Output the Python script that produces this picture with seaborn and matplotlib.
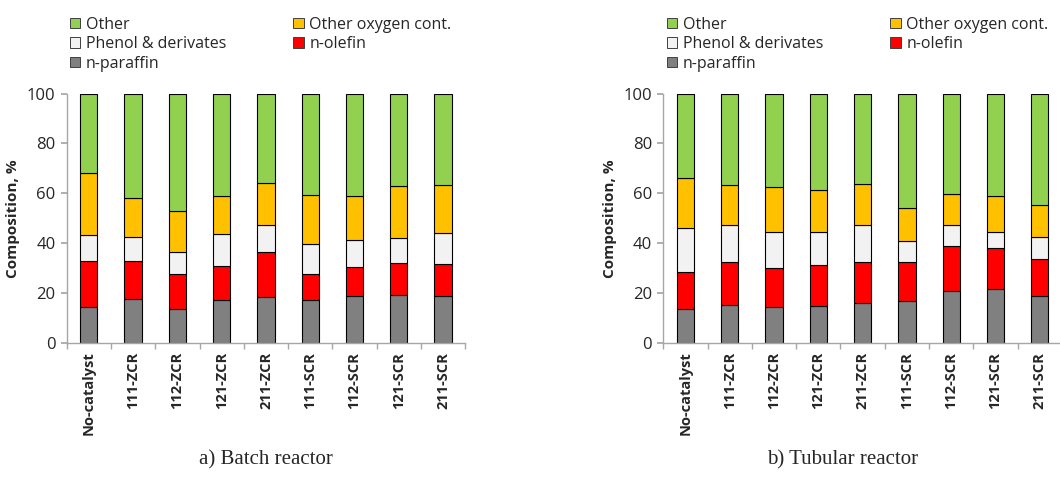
import numpy as np
import pandas as pd
import matplotlib
matplotlib.use("Agg")
import matplotlib.pyplot as plt
from matplotlib.patches import Patch
import seaborn as sns

sns.set_theme(style="white")
plt.rcParams["font.family"] = ["Open Sans", "DejaVu Sans"]

categories = ["No-catalyst", "111-ZCR", "112-ZCR", "121-ZCR", "211-ZCR",
              "111-SCR", "112-SCR", "121-SCR", "211-SCR"]

# Batch reactor composition, %
batch_paraffin = [14.7, 17.7, 13.6, 17.3, 18.7, 17.3, 19.1, 19.5, 19.1]
batch_olefin   = [18.4, 15.4, 14.0, 13.5, 18.0, 10.3, 11.4, 12.5, 12.5]
batch_phenol   = [10.4,  9.6,  8.8, 13.1, 10.8, 12.1, 10.7, 10.3, 12.4]
batch_oxygen   = [24.8, 15.3, 16.5, 14.9, 16.8, 19.8, 17.9, 20.8, 19.5]
batch_other    = [31.7, 42.0, 47.1, 41.2, 35.7, 40.5, 40.9, 36.9, 36.5]

# Tubular reactor composition, %
tub_paraffin = [13.6, 15.5, 14.7, 15.1, 16.3, 17.1, 21.1, 21.7, 18.8]
tub_olefin   = [15.1, 17.2, 15.6, 16.2, 16.4, 15.6, 17.8, 16.6, 15.1]
tub_phenol   = [17.3, 14.8, 14.1, 13.4, 14.5,  8.4,  8.3,  6.1,  8.5]
tub_oxygen   = [20.3, 16.0, 18.3, 16.8, 16.7, 12.9, 12.7, 14.4, 13.1]
tub_other    = [33.7, 36.5, 37.3, 38.5, 36.1, 46.0, 40.1, 41.2, 44.5]

series_names = ["n-paraffin", "n-olefin", "Phenol & derivates",
                "Other oxygen cont.", "Other"]
series_colors = ["#808080", "#FF0000", "#F2F2F2", "#FFC000", "#92D050"]

panels = [
    ("a) Batch reactor", [batch_paraffin, batch_olefin, batch_phenol, batch_oxygen, batch_other]),
    ("b) Tubular reactor", [tub_paraffin, tub_olefin, tub_phenol, tub_oxygen, tub_other]),
]

fig = plt.figure(figsize=(10.6, 4.87), dpi=100)
ax_rects = [[0.0629, 0.295, 0.376, 0.513], [0.6258, 0.295, 0.376, 0.513]]
caption_x = [0.251, 0.795]
legend_x = [0.066, 0.629]
axis_gray = "#A6A6A6"

for (caption, layers), rect, cx, lx in zip(panels, ax_rects, caption_x, legend_x):
    ax = fig.add_axes(rect)
    bottom = np.zeros(len(categories))
    for name, vals, col in zip(series_names, layers, series_colors):
        df = pd.DataFrame({"cat": categories, "val": vals})
        sns.barplot(data=df, x="cat", y="val", color=col, bottom=bottom,
                    width=0.39, edgecolor="black", linewidth=0.8,
                    saturation=1, ax=ax, order=categories)
        bottom = bottom + np.asarray(vals)

    ax.set_xlim(-0.5, len(categories) - 0.5)
    ax.set_ylim(0, 100)
    ax.set_yticks([0, 20, 40, 60, 80, 100])
    ax.set_xlabel("")
    ax.set_ylabel("Composition, %", fontsize=11, fontweight="bold", labelpad=5)
    for s in ["top", "right"]:
        ax.spines[s].set_visible(False)
    for s in ["left", "bottom"]:
        ax.spines[s].set_color(axis_gray)
        ax.spines[s].set_linewidth(1.0)
    ax.tick_params(axis="y", which="major", direction="out", length=4,
                   color=axis_gray, labelsize=12, pad=4, left=True)
    ax.set_xticks(range(len(categories)))
    ax.set_xticklabels(categories, rotation=90, fontsize=10.5, fontweight="bold")
    ax.tick_params(axis="x", which="major", length=0, pad=6)
    ax.set_xticks(np.arange(-0.5, len(categories), 1.0), minor=True)
    ax.tick_params(axis="x", which="minor", direction="out", length=4,
                   color=axis_gray, bottom=True)

    handles = [Patch(facecolor=c, edgecolor="#404040", linewidth=0.7)
               for c in series_colors]
    order = [4, 2, 0, 3, 1]
    fig.legend([handles[i] for i in order], [series_names[i] for i in order],
               loc="upper left", bbox_to_anchor=(lx, 0.966), ncol=2,
               frameon=False, fontsize=11.5, handlelength=0.65, handleheight=0.65,
               handletextpad=0.35, columnspacing=4.2, labelspacing=0.22,
               borderpad=0, borderaxespad=0)

    fig.text(cx, 0.055, caption, ha="center", va="center",
             family="Liberation Serif", fontsize=15)

fig.savefig("out.png", dpi=100)
